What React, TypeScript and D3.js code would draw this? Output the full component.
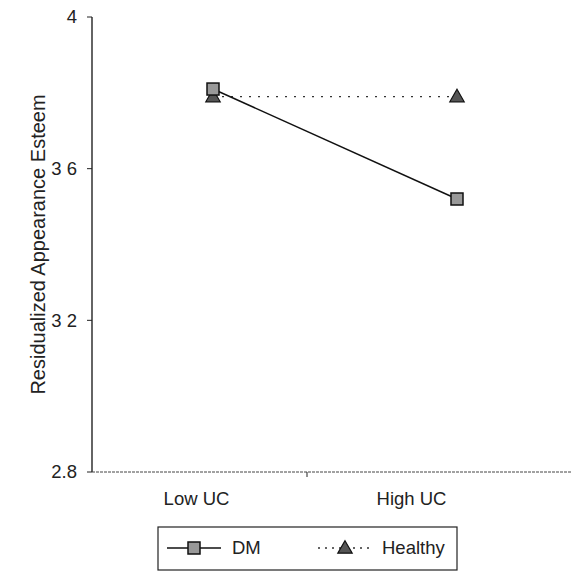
import { useEffect, useRef } from 'react';
import * as d3 from 'd3';

const categories = ['Low UC', 'High UC'];
const dmValues = [3.81, 3.52];
const healthyValues = [3.79, 3.79];
const yTicks = [2.8, 3.2, 3.6, 4];
const yTickLabels = ['2.8', '3 2', '3 6', '4'];

const W = 571;
const H = 571;

export default function App() {
  const svgRef = useRef<SVGSVGElement>(null);

  useEffect(() => {
    if (!svgRef.current) return;
    const svg = d3.select(svgRef.current);
    svg.selectAll('*').remove();

    const left = 92;
    const top = 17;
    const bottom = 472;
    const font = 'Liberation Sans, Arial, sans-serif';
    const fs = 18.5;

    const y = d3.scaleLinear().domain([2.8, 4]).range([bottom, top]);
    // category bands for the axis labels
    const xBand = d3.scaleBand<string>().domain(categories).range([left, left + 430]);
    // markers sit a bit to the right of the label centres, like the original
    const xPt = d3.scalePoint<string>().domain(categories).range([213, 457]);

    // y axis
    svg.append('line')
      .attr('x1', left).attr('x2', left)
      .attr('y1', top).attr('y2', bottom)
      .attr('stroke', '#111').attr('stroke-width', 1.3);

    yTicks.forEach((t, i) => {
      svg.append('line')
        .attr('x1', left - 5).attr('x2', left)
        .attr('y1', y(t)).attr('y2', y(t))
        .attr('stroke', '#222');
      svg.append('text')
        .attr('x', left - 15)
        .attr('y', y(t))
        .attr('dy', '0.35em')
        .attr('text-anchor', 'end')
        .attr('font-family', font)
        .attr('font-size', fs)
        .attr('fill', '#222')
        .text(yTickLabels[i]);
    });

    // x axis
    svg.append('line')
      .attr('x1', left).attr('x2', W)
      .attr('y1', bottom).attr('y2', bottom)
      .attr('stroke', '#444').attr('stroke-width', 1)
      .attr('stroke-dasharray', '3,1');

    svg.append('line')
      .attr('x1', xBand('High UC')!).attr('x2', xBand('High UC')!)
      .attr('y1', bottom).attr('y2', bottom + 5)
      .attr('stroke', '#222');

    categories.forEach(c => {
      svg.append('text')
        .attr('x', xBand(c)! + xBand.bandwidth() / 2 - 3)
        .attr('y', bottom + 33)
        .attr('text-anchor', 'middle')
        .attr('font-family', font)
        .attr('font-size', fs)
        .attr('fill', '#222')
        .text(c);
    });

    // y label
    svg.append('text')
      .attr('transform', `translate(45,${(top + bottom) / 2}) rotate(-90)`)
      .attr('text-anchor', 'middle')
      .attr('font-family', font)
      .attr('font-size', 20)
      .attr('fill', '#222')
      .text('Residualized Appearance Esteem');

    const line = d3.line<number>()
      .x((_, i) => xPt(categories[i])!)
      .y(d => y(d));

    // Healthy line (dotted)
    svg.append('path')
      .attr('d', line(healthyValues)!)
      .attr('fill', 'none')
      .attr('stroke', '#333')
      .attr('stroke-width', 1.3)
      .attr('stroke-dasharray', '2,7');

    // DM line
    svg.append('path')
      .attr('d', line(dmValues)!)
      .attr('fill', 'none')
      .attr('stroke', '#111')
      .attr('stroke-width', 1.5);

    const tri = d3.symbol().type(d3.symbolTriangle).size(90);
    const sq = 12;

    healthyValues.forEach((v, i) => {
      svg.append('path')
        .attr('d', tri()!)
        .attr('transform', `translate(${xPt(categories[i])},${y(v) + 1})`)
        .attr('fill', '#555')
        .attr('stroke', '#111')
        .attr('stroke-width', 1.2);
    });

    dmValues.forEach((v, i) => {
      svg.append('rect')
        .attr('x', xPt(categories[i])! - sq / 2)
        .attr('y', y(v) - sq / 2)
        .attr('width', sq).attr('height', sq)
        .attr('fill', '#999')
        .attr('stroke', '#111')
        .attr('stroke-width', 1.5);
    });

    // legend
    const lg = svg.append('g');
    lg.append('rect')
      .attr('x', 158).attr('y', 527)
      .attr('width', 299).attr('height', 43)
      .attr('fill', 'white')
      .attr('stroke', '#222').attr('stroke-width', 1.2);

    const ly = 548;
    lg.append('line')
      .attr('x1', 167).attr('x2', 221).attr('y1', ly).attr('y2', ly)
      .attr('stroke', '#111').attr('stroke-width', 1.5);
    lg.append('rect')
      .attr('x', 194 - 6).attr('y', ly - 6)
      .attr('width', 12).attr('height', 12)
      .attr('fill', '#999').attr('stroke', '#111').attr('stroke-width', 1.5);
    lg.append('text')
      .attr('x', 232).attr('y', ly).attr('dy', '0.35em')
      .attr('font-family', font).attr('font-size', fs).attr('fill', '#222')
      .text('DM');

    lg.append('line')
      .attr('x1', 318).attr('x2', 372).attr('y1', ly).attr('y2', ly)
      .attr('stroke', '#333').attr('stroke-width', 1.3)
      .attr('stroke-dasharray', '2,5');
    lg.append('path')
      .attr('d', tri()!)
      .attr('transform', `translate(345,${ly + 1})`)
      .attr('fill', '#555').attr('stroke', '#111').attr('stroke-width', 1.2);
    lg.append('text')
      .attr('x', 382).attr('y', ly).attr('dy', '0.35em')
      .attr('font-family', font).attr('font-size', fs).attr('fill', '#222')
      .text('Healthy');
  }, []);

  return (
    <svg
      ref={svgRef}
      width={W}
      height={H}
      style={{ position: 'absolute', left: 0, top: 0, background: 'white' }}
    />
  );
}
